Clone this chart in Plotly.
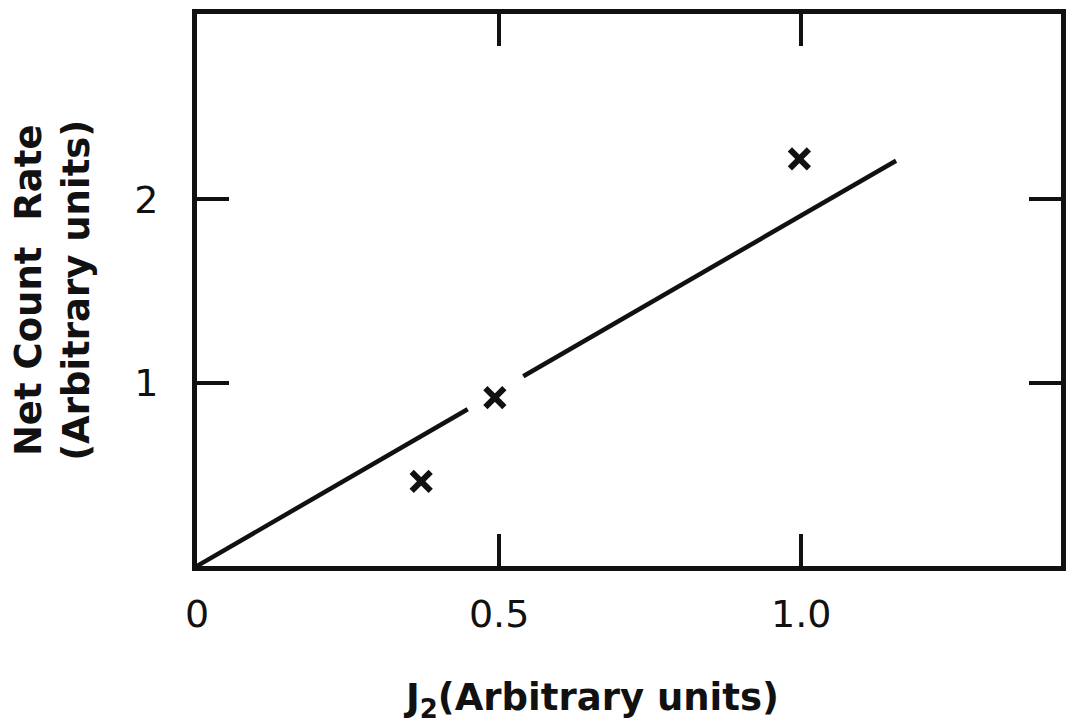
import plotly.graph_objects as go

# Measured points: J2 vs net count rate
j2_points = [0.371, 0.493, 0.997]
rate_points = [0.462, 0.918, 2.22]

# Fitted straight line through the origin (drawn with a break near x = 0.5)
fit_x = [0.0, 0.448, None, 0.540, 1.157]
fit_y = [0.0, 0.855, None, 1.035, 2.21]

x_tickvals = [0, 0.5, 1.0]
x_ticktext = ["0", "0.5", "1.0"]
y_tickvals = [1, 2]
y_ticktext = ["1", "2"]

INK = "#111111"
TICK_FONT = dict(family="DejaVu Sans, sans-serif", size=38, color=INK)
TITLE_FONT = dict(family="DejaVu Sans, sans-serif", size=37, color=INK)

fig = go.Figure()

fig.add_trace(go.Scatter(
    x=fit_x, y=fit_y, mode="lines",
    line=dict(color=INK, width=4.5),
    connectgaps=False, hoverinfo="skip", showlegend=False,
))

fig.add_trace(go.Scatter(
    x=j2_points, y=rate_points, mode="markers",
    marker=dict(symbol="x-thin", size=19, line=dict(width=6, color=INK)),
    showlegend=False,
))

axis_common = dict(
    showgrid=False, zeroline=False,
    showline=True, linewidth=5, linecolor=INK, mirror="ticks",
    ticks="inside", ticklen=32, tickwidth=4, tickcolor=INK,
    tickfont=TICK_FONT,
)

fig.update_xaxes(
    range=[0, 1.43], tickvals=x_tickvals, ticktext=x_ticktext,
    ticklabelstandoff=10, **axis_common
)
fig.update_yaxes(
    range=[0, 3.01], tickvals=y_tickvals, ticktext=y_ticktext,
    ticklabelstandoff=26, **axis_common
)

fig.add_annotation(
    text="<b>J<sub>2</sub>(Arbitrary units)</b>",
    xref="paper", yref="paper", x=0.456, y=-0.243,
    xanchor="center", yanchor="middle", showarrow=False,
    font=TITLE_FONT,
)
fig.add_annotation(
    text="<b>Net Count  Rate<br>(Arbitrary units)</b>",
    xref="paper", yref="paper", x=-0.168, y=0.5,
    xanchor="center", yanchor="middle", showarrow=False,
    textangle=-90, font=TITLE_FONT, align="center",
)

fig.update_layout(
    width=1070, height=728,
    margin=dict(l=197, r=4, t=14, b=162),
    paper_bgcolor="white", plot_bgcolor="white",
)

fig.write_html("out.html")
